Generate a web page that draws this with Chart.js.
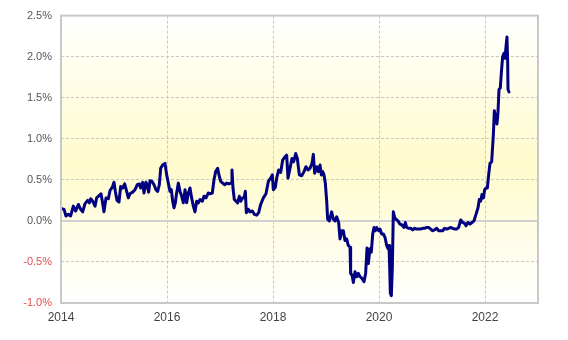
<!DOCTYPE html>
<html>
<head>
<meta charset="utf-8">
<script src="https://cdn.jsdelivr.net/npm/chart.js@4/dist/chart.umd.min.js"></script>
<style>
html,body{margin:0;padding:0;background:#fff;}
#wrap{width:568px;height:340px;position:relative;}
</style>
</head>
<body>
<div id="wrap"><canvas id="c" width="568" height="340"></canvas></div>
<script>
// decimal years of observations
const years = [
2014.013,2014.057,2014.094,2014.138,2014.182,2014.233,2014.277,2014.327,2014.371,2014.409,
2014.453,2014.503,2014.535,2014.560,2014.597,2014.642,2014.673,2014.723,2014.755,2014.780,
2014.811,2014.849,2014.893,2014.925,2014.969,2015.000,2015.025,2015.057,2015.094,2015.126,
2015.164,2015.201,2015.239,2015.270,2015.302,2015.352,2015.396,2015.440,2015.478,2015.503,
2015.541,2015.566,2015.604,2015.629,2015.654,2015.679,2015.717,2015.755,2015.792,2015.824,
2015.855,2015.881,2015.918,2015.962,2015.994,2016.025,2016.057,2016.082,2016.107,2016.132,
2016.157,2016.182,2016.214,2016.245,2016.277,2016.308,2016.340,2016.371,2016.403,2016.434,
2016.465,2016.497,2016.528,2016.560,2016.591,2016.623,2016.667,2016.698,2016.736,2016.780,
2016.811,2016.855,2016.887,2016.918,2016.956,2016.981,2017.013,2017.050,2017.088,2017.126,
2017.170,2017.208,2017.226,2017.245,2017.270,2017.302,2017.333,2017.365,2017.390,2017.428,
2017.459,2017.478,2017.497,2017.535,2017.566,2017.610,2017.648,2017.692,2017.730,2017.767,
2017.818,2017.868,2017.912,2017.956,2017.987,2018.006,2018.044,2018.069,2018.107,2018.145,
2018.182,2018.226,2018.258,2018.283,2018.321,2018.358,2018.390,2018.428,2018.459,2018.497,
2018.541,2018.585,2018.623,2018.660,2018.698,2018.736,2018.761,2018.786,2018.824,2018.855,
2018.887,2018.912,2018.937,2018.962,2018.987,2019.013,2019.031,2019.063,2019.107,2019.138,
2019.170,2019.201,2019.239,2019.264,2019.296,2019.327,2019.358,2019.390,2019.421,2019.453,
2019.465,2019.491,2019.516,2019.547,2019.579,2019.610,2019.642,2019.679,2019.717,2019.748,
2019.774,2019.799,2019.830,2019.855,2019.881,2019.906,2019.931,2019.956,2019.994,2020.019,
2020.050,2020.082,2020.113,2020.145,2020.170,2020.189,2020.201,2020.214,2020.233,2020.252,
2020.270,2020.296,2020.321,2020.358,2020.396,2020.434,2020.472,2020.497,2020.522,2020.560,
2020.597,2020.635,2020.673,2020.711,2020.748,2020.786,2020.824,2020.862,2020.899,2020.937,
2020.975,2021.013,2021.050,2021.088,2021.126,2021.164,2021.201,2021.239,2021.277,2021.314,
2021.352,2021.390,2021.428,2021.465,2021.503,2021.541,2021.579,2021.616,2021.642,2021.679,
2021.717,2021.755,2021.792,2021.830,2021.868,2021.893,2021.918,2021.943,2021.969,2021.994,
2022.019,2022.044,2022.069,2022.094,2022.126,2022.157,2022.176,2022.201,2022.226,2022.245,
2022.264,2022.289,2022.308,2022.333,2022.358,2022.377,2022.396,2022.415,2022.428,2022.434,
2022.453
];
// yield values in percent
const rates = [
0.15,0.14,0.06,0.08,0.06,0.18,0.12,0.20,0.14,0.11,
0.21,0.25,0.22,0.27,0.24,0.18,0.28,0.31,0.33,0.24,
0.11,0.28,0.27,0.37,0.41,0.47,0.36,0.25,0.23,0.42,
0.40,0.45,0.36,0.28,0.33,0.35,0.38,0.44,0.45,0.40,
0.47,0.34,0.47,0.43,0.35,0.49,0.48,0.44,0.38,0.36,
0.44,0.64,0.68,0.70,0.56,0.46,0.36,0.38,0.24,0.16,
0.22,0.34,0.46,0.36,0.30,0.22,0.38,0.22,0.34,0.40,
0.28,0.18,0.11,0.24,0.22,0.26,0.24,0.30,0.28,0.34,
0.33,0.34,0.50,0.60,0.64,0.56,0.48,0.46,0.44,0.46,
0.45,0.46,0.62,0.40,0.26,0.24,0.22,0.30,0.24,0.28,
0.29,0.36,0.10,0.14,0.11,0.12,0.08,0.07,0.10,0.20,
0.28,0.33,0.48,0.52,0.56,0.38,0.41,0.52,0.62,0.59,
0.74,0.78,0.80,0.52,0.64,0.76,0.72,0.82,0.76,0.56,
0.55,0.60,0.66,0.62,0.64,0.70,0.81,0.58,0.66,0.60,
0.68,0.56,0.60,0.56,0.46,0.24,0.02,0.00,0.11,0.02,
0.00,0.05,-0.02,-0.22,-0.12,-0.12,-0.24,-0.22,-0.30,-0.32,
-0.64,-0.66,-0.75,-0.62,-0.68,-0.64,-0.68,-0.70,-0.74,-0.64,
-0.33,-0.52,-0.34,-0.38,-0.16,-0.08,-0.12,-0.08,-0.12,-0.10,
-0.16,-0.16,-0.20,-0.30,-0.34,-0.30,-0.56,-0.88,-0.91,-0.56,
0.11,0.04,0.02,0.00,-0.04,-0.05,-0.08,-0.02,-0.08,-0.09,
-0.09,-0.11,-0.09,-0.10,-0.10,-0.10,-0.09,-0.09,-0.08,-0.08,
-0.10,-0.12,-0.11,-0.09,-0.12,-0.12,-0.12,-0.09,-0.10,-0.09,
-0.08,-0.09,-0.10,-0.10,-0.08,0.01,-0.02,-0.03,-0.06,-0.02,
-0.04,-0.02,0.00,0.08,0.16,0.26,0.24,0.32,0.28,0.38,
0.40,0.40,0.56,0.70,0.72,1.04,1.34,1.26,1.18,1.32,
1.60,1.62,1.80,2.00,2.04,1.98,2.12,2.24,1.92,1.60,
1.57
];
const yearTicks = [2014, 2016, 2018, 2020, 2022];
const xMin = 2014, xMax = 2023;
const yMin = -1.0, yMax = 2.5, yStep = 0.5;

const bgPlugin = {
  id: 'bg',
  beforeDraw(chart) {
    const {ctx, chartArea: a} = chart;
    ctx.save();
    ctx.fillStyle = '#fff';
    ctx.fillRect(0, 0, chart.width, chart.height);
    const g = ctx.createLinearGradient(0, a.top, 0, a.bottom);
    g.addColorStop(0, '#ffffff');
    g.addColorStop(0.52, '#fffbcc');
    g.addColorStop(1, '#ffffff');
    ctx.fillStyle = g;
    ctx.fillRect(a.left, a.top, a.right - a.left, a.bottom - a.top);
    ctx.restore();
  },
  beforeDatasetsDraw(chart) {
    const {ctx, chartArea: a} = chart;
    const y0 = chart.scales.y.getPixelForValue(0);
    ctx.save();
    ctx.strokeStyle = '#d0d0d0';
    ctx.lineWidth = 2;
    ctx.beginPath();
    ctx.moveTo(a.left, y0);
    ctx.lineTo(a.right, y0);
    ctx.stroke();
    ctx.restore();
  },
  afterDraw(chart) {
    const {ctx, chartArea: a} = chart;
    ctx.save();
    ctx.strokeStyle = '#c8c8c8';
    ctx.lineWidth = 2;
    ctx.strokeRect(a.left, a.top, a.right - a.left, a.bottom - a.top);
    ctx.restore();
  }
};

new Chart(document.getElementById('c'), {
  type: 'line',
  data: {
    datasets: [{
      data: years.map((x, i) => ({x: x, y: rates[i]})),
      borderColor: '#000080',
      borderWidth: 3,
      borderJoinStyle: 'round',
      borderCapStyle: 'round',
      pointRadius: 0,
      tension: 0,
      fill: false
    }]
  },
  options: {
    responsive: false,
    animation: false,
    devicePixelRatio: 1,
    layout: {padding: {top: 12, right: 30, left: 0, bottom: 0}},
    plugins: {legend: {display: false}, tooltip: {enabled: false}},
    scales: {
      x: {
        type: 'linear',
        min: xMin, max: xMax,
        afterBuildTicks(scale) { scale.ticks = yearTicks.map(v => ({value: v})); },
        afterFit(scale) { scale.height = 37; },
        grid: {color: '#c8c8c8', lineWidth: 1, drawTicks: false},
        border: {display: false, dash: [3, 2]},
        ticks: {
          padding: 7,
          color: '#444',
          font: {family: 'Liberation Sans', size: 12},
          maxRotation: 0,
          callback: v => String(v)
        }
      },
      y: {
        min: yMin, max: yMax,
        afterFit(scale) { scale.width = 61; },
        grid: {color: '#c8c8c8', lineWidth: 1, drawTicks: false},
        border: {display: false, dash: [3, 2]},
        ticks: {
          stepSize: yStep,
          padding: 9,
          color: ctx => (ctx.tick && ctx.tick.value < 0) ? '#e05050' : '#555',
          font: {family: 'Liberation Sans', size: 11},
          callback: v => v.toFixed(1) + '%'
        }
      }
    }
  },
  plugins: [bgPlugin]
});
</script>
</body>
</html>
